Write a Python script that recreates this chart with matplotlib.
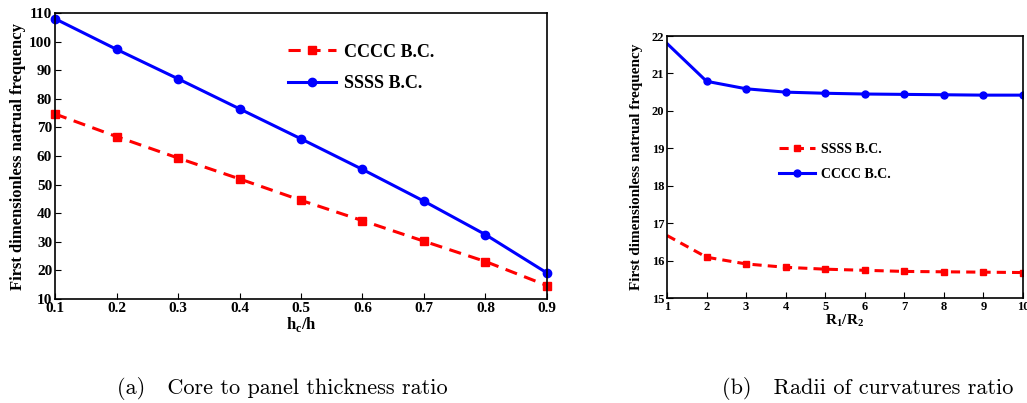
import matplotlib
matplotlib.use("Agg")
import matplotlib.pyplot as plt

# panel (a): core to panel thickness ratio
hc_ratio = [0.1, 0.2, 0.3, 0.4, 0.5, 0.6, 0.7, 0.8, 0.9]
cccc_a = [74.7, 66.8, 59.3, 52.0, 44.5, 37.4, 30.2, 23.1, 14.7]
ssss_a = [108.0, 97.3, 87.0, 76.5, 66.0, 55.3, 44.2, 32.5, 19.1]

# panel (b): radii of curvatures ratio
r_ratio = [1, 2, 3, 4, 5, 6, 7, 8, 9, 10]
ssss_b = [16.67, 16.09, 15.91, 15.82, 15.77, 15.74, 15.71, 15.70, 15.69, 15.68]
cccc_b = [21.80, 20.79, 20.59, 20.50, 20.47, 20.45, 20.44, 20.43, 20.42, 20.42]

ylabel = "First dimensionless natrual frequency"
serif = "Liberation Serif"

plt.rcParams["mathtext.fontset"] = "custom"
plt.rcParams["mathtext.bf"] = "Liberation Serif:bold"

fig = plt.figure(figsize=(10.27, 4.03), dpi=100)

# ---- left panel
ax1 = fig.add_axes([55 / 1027, 1 - 299 / 403, 492 / 1027, 286 / 403])
ax1.plot(hc_ratio, cccc_a, "--s", color="red", lw=2.2, ms=6, dashes=(4, 2.5),
         label="CCCC B.C.", clip_on=False)
ax1.plot(hc_ratio, ssss_a, "-o", color="blue", lw=2.2, ms=6,
         label="SSSS B.C.", clip_on=False)
ax1.set_xlim(0.1, 0.9)
ax1.set_ylim(10, 110)
ax1.set_xticks(hc_ratio)
ax1.set_yticks(range(10, 111, 10))
ax1.tick_params(direction="in", length=4, pad=2)
for lab in ax1.get_xticklabels() + ax1.get_yticklabels():
    lab.set_fontfamily(serif)
    lab.set_fontweight("bold")
    lab.set_fontsize(11)
ax1.set_xlabel("h$_\\mathbf{c}$/h", fontfamily=serif, fontweight="bold",
               fontsize=12, labelpad=0)
ax1.set_ylabel(ylabel, fontfamily=serif, fontweight="bold", fontsize=12, labelpad=2)
ax1.legend(loc="upper left", bbox_to_anchor=(0.44, 0.95), frameon=False,
           prop={"family": serif, "weight": "bold", "size": 13},
           handlelength=2.7, handletextpad=0.4, labelspacing=0.8)
for s in ax1.spines.values():
    s.set_linewidth(1.2)

# ---- right panel
ax2 = fig.add_axes([667 / 1027, 1 - 298 / 403, 356 / 1027, 262 / 403])
ax2.plot(r_ratio, ssss_b, "--s", color="red", lw=2.2, ms=5, dashes=(3, 2),
         markevery=slice(1, None), label="SSSS B.C.")
ax2.plot(r_ratio, cccc_b, "-o", color="blue", lw=2.2, ms=5,
         markevery=slice(1, None), label="CCCC B.C.")
ax2.set_xlim(1, 10)
ax2.set_ylim(15, 22)
ax2.set_xticks(r_ratio)
ax2.set_yticks(range(15, 23))
ax2.tick_params(direction="in", length=4, pad=2)
for lab in ax2.get_xticklabels() + ax2.get_yticklabels():
    lab.set_fontfamily(serif)
    lab.set_fontweight("bold")
    lab.set_fontsize(9)
ax2.set_xlabel("R$_\\mathbf{1}$/R$_\\mathbf{2}$", fontfamily=serif,
               fontweight="bold", fontsize=11, labelpad=0)
ax2.set_ylabel(ylabel, fontfamily=serif, fontweight="bold", fontsize=11, labelpad=6)
ax2.legend(loc="upper left", bbox_to_anchor=(0.28, 0.64), frameon=False,
           prop={"family": serif, "weight": "bold", "size": 10},
           handlelength=2.6, handletextpad=0.4, labelspacing=0.9)
for s in ax2.spines.values():
    s.set_linewidth(1.2)

# captions
fig.text(282 / 1027, 1 - 389 / 403, "(a)   Core to panel thickness ratio",
         fontfamily="cmr10", fontsize=16, ha="center", va="center")
fig.text(868 / 1027, 1 - 389 / 403, "(b)   Radii of curvatures ratio",
         fontfamily="cmr10", fontsize=16, ha="center", va="center")

fig.savefig("out.png", dpi=100)
